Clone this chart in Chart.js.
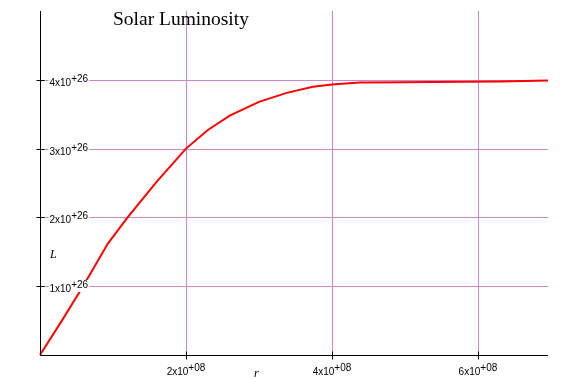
<!DOCTYPE html>
<html>
<head>
<meta charset="utf-8">
<script src="https://cdn.jsdelivr.net/npm/chart.js@4"></script>
<style>
html,body{margin:0;padding:0;background:#fff;}
#wrap{width:568px;height:379px;position:relative;}
</style>
</head>
<body>
<div id="wrap"><canvas id="c" width="568" height="379"></canvas></div>
<script>
// Radius (m) and luminosity (W)
const radius = [0, 0.3e8, 0.59e8, 0.93e8, 1.2e8, 1.6e8, 2.0e8, 2.3e8, 2.6e8, 3.0e8, 3.38e8, 3.74e8, 4.0e8, 4.38e8, 4.95e8, 6.3e8, 6.96e8];
const luminosity = [0, 0.5e26, 1.0e26, 1.62e26, 2.0e26, 2.52e26, 3.0e26, 3.27e26, 3.48e26, 3.68e26, 3.81e26, 3.90e26, 3.93e26, 3.96e26, 3.965e26, 3.975e26, 3.99e26];
const xTicks = [2e8, 4e8, 6e8];
const xTickLabels = [["2x10", "+08"], ["4x10", "+08"], ["6x10", "+08"]];
const yTicks = [1e26, 2e26, 3e26, 4e26];
const yTickLabels = [["1x10", "+26"], ["2x10", "+26"], ["3x10", "+26"], ["4x10", "+26"]];
const titleText = "Solar Luminosity";
const xAxisLabel = "r";
const yAxisLabel = "L";

const points = radius.map((r, i) => ({x: r, y: luminosity[i]}));
const GRID = "rgb(204,136,204)";

const gridPlugin = {
  id: "gridPlugin",
  beforeDatasetsDraw(chart) {
    const ctx = chart.ctx;
    const xs = chart.scales.x, ys = chart.scales.y;
    const ca = chart.chartArea;
    const x0 = Math.round(xs.getPixelForValue(0));
    const y0 = Math.round(ys.getPixelForValue(0));
    ctx.save();
    ctx.strokeStyle = GRID;
    ctx.lineWidth = 1;
    ctx.beginPath();
    xTicks.forEach(v => {
      const px = Math.round(xs.getPixelForValue(v)) + 0.5;
      ctx.moveTo(px, ca.top); ctx.lineTo(px, y0);
    });
    yTicks.forEach(v => {
      const py = Math.round(ys.getPixelForValue(v)) + 0.5;
      ctx.moveTo(x0, py); ctx.lineTo(ca.right, py);
    });
    ctx.stroke();
    ctx.restore();
  }
};

const overlay = {
  id: "overlay",
  afterDraw(chart) {
    const ctx = chart.ctx;
    const xs = chart.scales.x, ys = chart.scales.y;
    const ca = chart.chartArea;
    const x0 = Math.round(xs.getPixelForValue(0)) + 0.5;
    const y0 = Math.round(ys.getPixelForValue(0)) + 0.5;
    ctx.save();
    ctx.strokeStyle = "#000";
    ctx.lineWidth = 1;
    ctx.beginPath();
    ctx.moveTo(x0, ca.top); ctx.lineTo(x0, y0);
    ctx.moveTo(x0, y0); ctx.lineTo(ca.right, y0);
    yTicks.forEach(v => {
      const py = Math.round(ys.getPixelForValue(v)) + 0.5;
      ctx.moveTo(x0 - 4, py); ctx.lineTo(x0 + 4, py);
    });
    xTicks.forEach(v => {
      const px = Math.round(xs.getPixelForValue(v)) + 0.5;
      ctx.moveTo(px, y0 - 4); ctx.lineTo(px, y0 + 4);
    });
    ctx.stroke();

    ctx.fillStyle = "#000";
    ctx.textBaseline = "alphabetic";
    ctx.font = "10px 'Liberation Sans', Arial, sans-serif";
    yTicks.forEach((v, i) => {
      const py = Math.round(ys.getPixelForValue(v));
      const [b, s] = yTickLabels[i];
      const bw = ctx.measureText(b).width;
      const sw = ctx.measureText(s).width;
      ctx.fillStyle = "#fff";
      ctx.fillRect(x0 + 8, py - 6, bw + sw + 2, 12);
      ctx.fillStyle = "#000";
      ctx.textAlign = "left";
      ctx.fillText(b, x0 + 9, py + 6);
      ctx.fillText(s, x0 + 9 + bw, py + 2);
    });
    xTicks.forEach((v, i) => {
      const px = xs.getPixelForValue(v);
      const [b, s] = xTickLabels[i];
      const bw = ctx.measureText(b).width;
      const sw = ctx.measureText(s).width;
      const start = px - (bw + sw) / 2;
      ctx.textAlign = "left";
      ctx.fillText(b, start, y0 + 19);
      ctx.fillText(s, start + bw, y0 + 15);
    });

    ctx.font = "italic 12px 'Liberation Serif', 'Times New Roman', serif";
    ctx.textAlign = "left";
    ctx.fillText(yAxisLabel, 50, 258);
    ctx.fillText(xAxisLabel, 254, 377);

    ctx.font = "19.5px 'Liberation Serif', 'Times New Roman', serif";
    ctx.fillText(titleText, 113, 25);
    ctx.restore();
  }
};

new Chart(document.getElementById("c"), {
  type: "scatter",
  data: {
    datasets: [{
      data: points,
      showLine: true,
      borderColor: "#ff0000",
      backgroundColor: "#ff0000",
      borderWidth: 2,
      pointRadius: 0,
      tension: 0,
      clip: false
    }]
  },
  options: {
    responsive: false,
    animation: false,
    layout: {padding: {left: 40, top: 11, right: 20, bottom: 24}},
    plugins: {legend: {display: false}, tooltip: {enabled: false}, title: {display: false}},
    scales: {
      x: {
        type: "linear", min: 0, max: 6.96e8,
        afterBuildTicks: s => { s.ticks = xTicks.map(v => ({value: v})); },
        ticks: {display: false},
        border: {display: false},
        grid: {display: false, drawTicks: false}
      },
      y: {
        type: "linear", min: 0, max: 5e26,
        afterBuildTicks: s => { s.ticks = yTicks.map(v => ({value: v})); },
        ticks: {display: false},
        border: {display: false},
        grid: {display: false, drawTicks: false}
      }
    }
  },
  plugins: [gridPlugin, overlay]
});
</script>
</body>
</html>
